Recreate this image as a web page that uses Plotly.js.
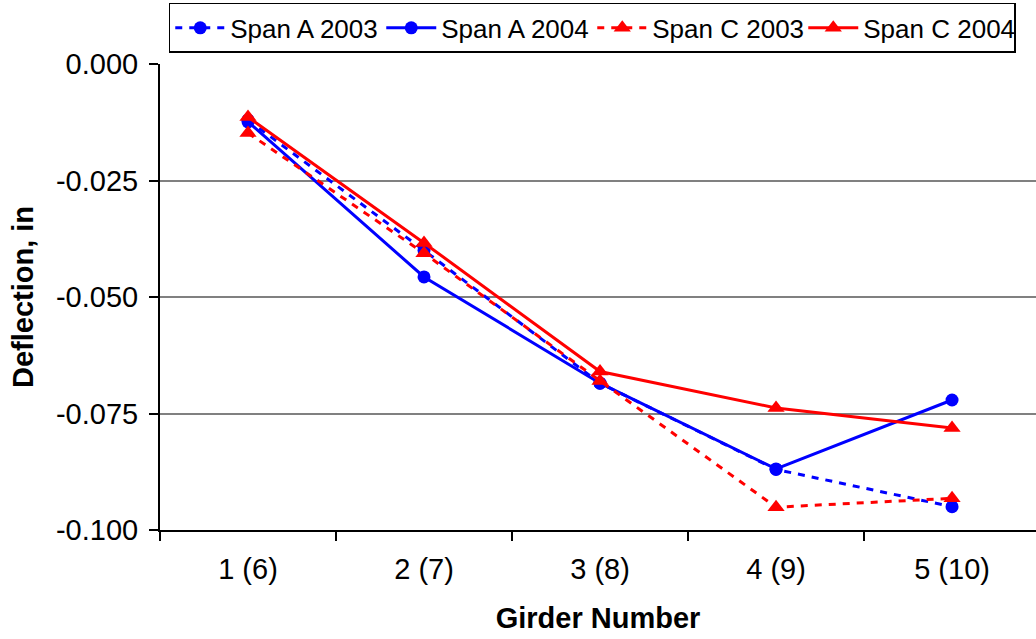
<!DOCTYPE html>
<html><head><meta charset="utf-8">
<script src="https://cdn.plot.ly/plotly-3.0.1.min.js"></script>
<style>body{margin:0;background:#fff}#chart{width:1036px;height:639px}</style>
</head><body><div id="chart"></div>
<script>
const categories = ["1 (6)", "2 (7)", "3 (8)", "4 (9)", "5 (10)"];
const spanA2003 = [-0.0120, -0.0400, -0.0685, -0.0870, -0.0950];
const spanA2004 = [-0.0124, -0.0457, -0.0685, -0.0869, -0.0721];
const spanC2003 = [-0.0148, -0.0406, -0.0680, -0.0951, -0.0932];
const spanC2004 = [-0.0114, -0.0384, -0.0660, -0.0738, -0.0781];
const yTickVals = [0, -0.025, -0.05, -0.075, -0.1];
const yTickText = ["0.000", "-0.025", "-0.050", "-0.075", "-0.100"];

const blue = "#0000ff", red = "#ff0000";
function tr(name, y, color, dash, symbol, msize) {
  return {x: categories, y: y, name: name, type: "scatter", mode: "lines+markers",
    line: {color: color, width: 3, dash: dash},
    marker: {color: color, symbol: symbol, size: msize}};
}
const data = [
  tr("Span A 2003", spanA2003, blue, "7px,7px", "circle", 13),
  tr("Span A 2004", spanA2004, blue, "solid", "circle", 13),
  tr("Span C 2003", spanC2003, red, "7px,7px", "triangle-up", 15),
  tr("Span C 2004", spanC2004, red, "solid", "triangle-up", 15)
];
const layout = {
  width: 1036, height: 639,
  margin: {l: 160, r: 0, t: 64, b: 109},
  paper_bgcolor: "#fff", plot_bgcolor: "#fff",
  font: {family: "Liberation Sans, Arial, sans-serif", size: 26, color: "#000"},
  showlegend: true,
  legend: {orientation: "h", x: 0.01, xanchor: "left", y: 1.131, yanchor: "top",
    bordercolor: "#000", borderwidth: 1.5, font: {size: 26}, traceorder: "normal",
    itemwidth: 50, tracegroupgap: 0, entrywidth: 146, entrywidthmode: "pixels"},
  xaxis: {type: "category", range: [-0.5, 4.477],
    showline: true, linecolor: "#000", linewidth: 2,
    ticks: "outside", tickson: "boundaries", ticklen: 9, tickcolor: "#000", tickwidth: 1.5,
    showgrid: false, zeroline: false, ticklabelstandoff: 12,
    tickfont: {size: 29},
    title: {text: "<b>Girder Number</b>", font: {size: 29}, standoff: 24}},
  yaxis: {range: [-0.1, 0], tickvals: yTickVals, ticktext: yTickText,
    showline: true, linecolor: "#000", linewidth: 2,
    ticks: "outside", ticklen: 9, tickcolor: "#000", tickwidth: 1.5,
    showgrid: true, gridcolor: "#808080", gridwidth: 2, zeroline: false,
    ticklabelstandoff: 5,
    tickfont: {size: 29},
    title: {text: "<b>Deflection, in</b>", font: {size: 29}, standoff: 14}}
};
Plotly.newPlot("chart", data, layout, {displayModeBar: false});
</script></body></html>
